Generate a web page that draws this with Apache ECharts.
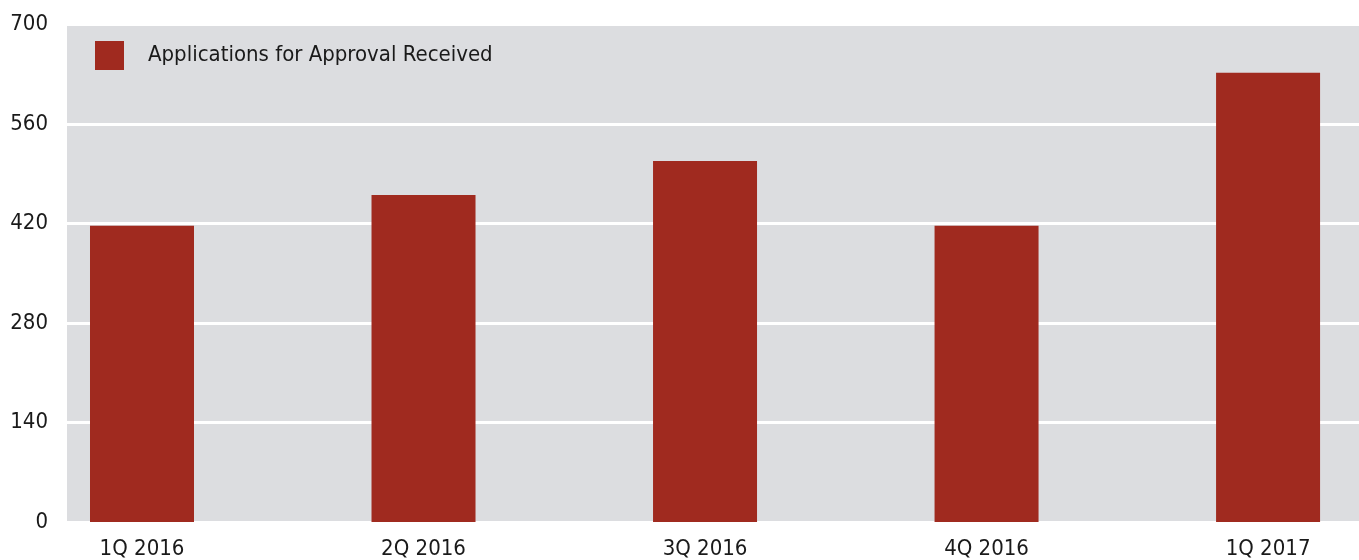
<!DOCTYPE html>
<html lang="en">
<head>
    <meta charset="UTF-8">
    <title>Applications for Approval Received</title>
    <script src="https://cdnjs.cloudflare.com/ajax/libs/echarts/6.0.0/echarts.min.js"></script>
    <style>
        html, body { margin: 0; padding: 0; background: #fff; }
        #main { width: 1359px; height: 560px; }
    </style>
</head>
<body>
    <div id="main"></div>
    <script>
        // data
        const quarters = ["1Q 2016", "2Q 2016", "3Q 2016", "4Q 2016", "1Q 2017"];
        const applications = [417, 460, 508, 417, 632];
        const yTicks = [0, 140, 280, 420, 560, 700];
        const seriesName = "Applications for Approval Received";

        const font = "'Liberation Sans Narrow', 'DejaVu Sans Condensed', sans-serif";
        const chart = echarts.init(document.getElementById('main'));

        // bars sit on index positions; x range is shifted like in the source
        const points = applications.map((v, i) => [i, v]);

        const option = {
            animation: false,
            grid: {
                left: 67, right: 0, top: 24.5, bottom: 38,
                show: true, backgroundColor: '#dcdde0', borderWidth: 0
            },
            legend: {
                left: 95, top: 41, padding: 0,
                itemWidth: 29, itemHeight: 29,
                icon: 'rect',
                data: [seriesName],
                textStyle: { fontFamily: font, fontSize: 22, color: '#1a1a1a', padding: [0, 0, 0, 19] }
            },
            xAxis: {
                type: 'value',
                min: -0.2664, max: 4.323,
                axisLine: { show: false },
                axisTick: { show: false },
                splitLine: { show: false },
                axisLabel: {
                    customValues: quarters.map((q, i) => i),
                    formatter: v => quarters[Math.round(v)],
                    margin: 16,
                    fontFamily: font, fontSize: 22, color: '#1a1a1a'
                }
            },
            yAxis: {
                type: 'value',
                min: yTicks[0], max: yTicks[yTicks.length - 1], interval: 140,
                axisLine: { show: false },
                axisTick: { show: false },
                axisLabel: { margin: 19, fontFamily: font, fontSize: 22, color: '#1a1a1a' },
                splitLine: { lineStyle: { color: '#ffffff', width: 3 } }
            },
            series: [{
                name: seriesName,
                type: 'bar',
                data: points,
                barWidth: 104,
                itemStyle: { color: '#a02a1f' }
            }]
        };
        chart.setOption(option);
    </script>
</body>
</html>
